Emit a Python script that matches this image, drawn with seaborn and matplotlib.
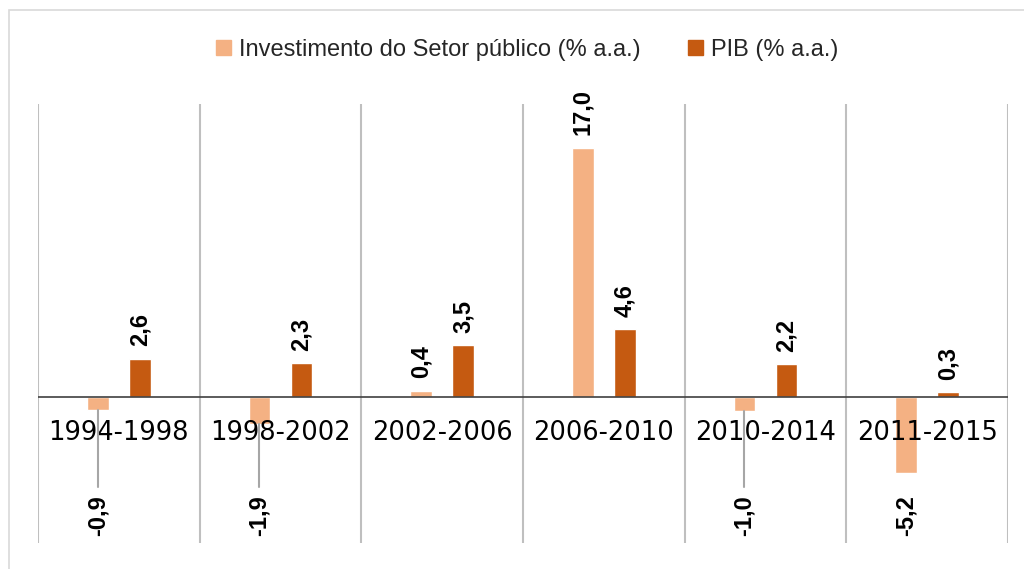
import numpy as np
import pandas as pd
import seaborn as sns
from matplotlib import pyplot as plt
import matplotlib.patches as mpatches

# Data
periods = ['1994-1998', '1998-2002', '2002-2006', '2006-2010', '2010-2014', '2011-2015']
investimento = [-0.9, -1.9, 0.4, 17.0, -1.0, -5.2]
pib = [2.6, 2.3, 3.5, 4.6, 2.2, 0.3]
series_names = ['Investimento do Setor público (% a.a.)', 'PIB (% a.a.)']
colors = ['#F4B183', '#C55A11']

df = pd.DataFrame({
    'periodo': periods * 2,
    'serie': [series_names[0]] * len(periods) + [series_names[1]] * len(periods),
    'valor': investimento + pib,
})

sns.set_style('white')
plt.rcParams['font.family'] = ['Liberation Sans', 'DejaVu Sans']

fig = plt.figure(figsize=(10.24, 5.69), dpi=100)
ax = fig.add_axes([38/1024, 1 - 543/569, (1008 - 38)/1024, (543 - 104)/569])

sns.barplot(data=df, x='periodo', y='valor', hue='serie', palette=colors,
            width=0.52, gap=0.48, ax=ax, legend=False, saturation=1)

ax.set_ylim(-10, 20)
ax.set_xlim(-0.5, len(periods) - 0.5)
for s in ax.spines.values():
    s.set_visible(False)
ax.set_xticks([])
ax.set_yticks([])
ax.set_xlabel('')
ax.set_ylabel('')

# Vertical separators between categories
for i in range(len(periods) + 1):
    ax.axvline(i - 0.5, color='#bfbfbf', lw=1.5, zorder=0)
ax.axhline(0, color='#404040', lw=1.2, zorder=3)

# Category labels on the zero line
for i, p in enumerate(periods):
    ax.text(i, -2.45, p, ha='center', va='center', fontsize=18.5,
            family='DejaVu Sans', color='black', zorder=1)

# Data labels
for container in ax.containers:
    for bar in container:
        v = bar.get_height()
        xc = bar.get_x() + bar.get_width() / 2
        lab = f'{v:.1f}'.replace('.', ',')
        if v >= 0:
            ax.annotate(lab, (xc, v), xytext=(0, 9), textcoords='offset points',
                        ha='center', va='bottom', rotation=90, fontsize=17,
                        fontweight='bold', color='black')
        else:
            ax.text(xc, -8.1, lab, ha='center', va='center', rotation=90,
                    fontsize=17, fontweight='bold', color='black')
            if v > -4:
                ax.plot([xc, xc], [v, -6.2], color='#a6a6a6', lw=1.5, zorder=2)

# Legend
handles = [mpatches.Patch(color=c, label=n) for c, n in zip(colors, series_names)]
fig.legend(handles=handles, loc='center', bbox_to_anchor=(0.515, 0.912), ncol=2,
           frameon=False, fontsize=17, handlelength=0.62, handleheight=0.62,
           handletextpad=0.35, columnspacing=2.0)

# Chart area border
fig.patches.append(mpatches.Rectangle((9/1024, -0.1), 2, 1.1 - 10/569, transform=fig.transFigure,
                                      fill=False, edgecolor='#d9d9d9', lw=1.2))

plt.savefig('out.png', dpi=100)
